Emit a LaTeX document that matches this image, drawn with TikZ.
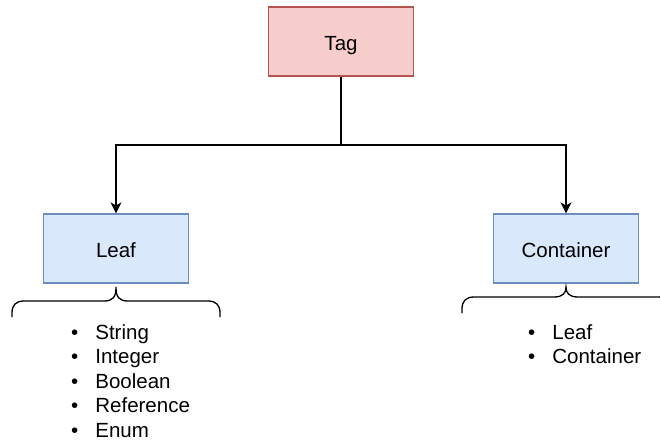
\documentclass[tikz,border=0pt]{standalone}
\usepackage{fontspec}
\setmainfont{Liberation Sans}
\usetikzlibrary{arrows.meta}
\definecolor{tagfill}{HTML}{F8CECC}
\definecolor{tagdraw}{HTML}{B85450}
\definecolor{kindfill}{HTML}{DAE8FC}
\definecolor{kinddraw}{HTML}{6C8EBF}
\tikzset{
  box/.style={draw, line width=1.2pt, minimum width=145pt, minimum height=69pt,
    inner sep=0pt, text height=18.5pt, text depth=0pt,
    font=\fontsize{20.5}{24.5}\selectfont},
  tagbox/.style={box, fill=tagfill, draw=tagdraw},
  kindbox/.style={box, fill=kindfill, draw=kinddraw},
  link/.style={line width=1.4pt, -{Stealth[length=11pt,width=11pt,inset=3pt]}},
  brace/.style={line width=1.3pt},
  listtext/.style={anchor=base west, inner sep=0pt, font=\fontsize{20.5}{24.5}\selectfont}
}
\begin{document}
\begin{tikzpicture}[x=1pt, y=-1pt]
  \useasboundingbox (0,0) rectangle (660,441);
  \clip (0,0) rectangle (660,441);

  % boxes
  \node[tagbox] (tag) at (341,41.5) {Tag};
  \node[kindbox] (leaf) at (116,248.5) {Leaf};
  \node[kindbox] (container) at (566,248.5) {Container};

  % tree connectors
  \coordinate (split) at (341,145);
  \draw[line width=1.4pt] (tag.south) -- (split);
  \draw[link] (split) -| (leaf.north);
  \draw[link] (split) -| (container.north);

  % braces under the boxes
  \draw[brace] (12,317) -- (12,313) .. controls (12,305) and (16,301) .. (24,301)
    -- (104,301) .. controls (113,301) and (116,297) .. (116,287)
    .. controls (116,297) and (119,301) .. (128,301)
    -- (208,301) .. controls (216,301) and (220,305) .. (220,313) -- (220,317);
  \draw[brace] (462,313) -- (462,309) .. controls (462,301) and (466,297) .. (474,297)
    -- (554,297) .. controls (563,297) and (566,293) .. (566,287)
    .. controls (566,293) and (569,297) .. (578,297)
    -- (658,297) .. controls (666,297) and (670,301) .. (670,309) -- (670,313);

  % lists of kinds
  \node[listtext] (leafkinds) at (71,339) {%
    \begin{tabular}[t]{@{}l@{\hspace{17pt}}l@{}}
      • & String\\
      • & Integer\\
      • & Boolean\\
      • & Reference\\
      • & Enum
    \end{tabular}};
  \node[listtext] (containerkinds) at (528,339) {%
    \begin{tabular}[t]{@{}l@{\hspace{17pt}}l@{}}
      • & Leaf\\
      • & Container
    \end{tabular}};
\end{tikzpicture}
\end{document}
